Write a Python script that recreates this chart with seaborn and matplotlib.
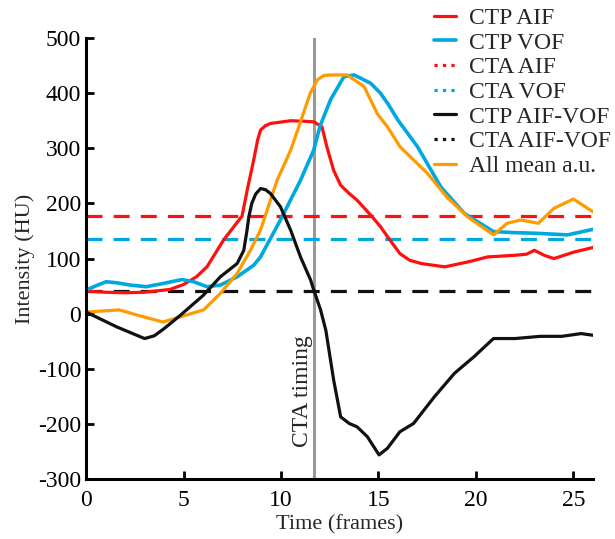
import matplotlib
matplotlib.use('Agg')
import matplotlib.pyplot as plt
from matplotlib.lines import Line2D
import seaborn as sns

# CTP AIF (red)
aif_t = [0, 1.0, 2.0, 3.0, 4.3, 5.0, 5.66, 6.2, 7.06, 8.0, 8.3, 8.6, 8.8, 8.95, 9.2,
         9.46, 10.5, 11.2, 11.68, 12.1, 12.35, 12.7, 13.06, 13.5, 13.9, 14.6, 15.1,
         15.46, 16.1, 16.6, 17.2, 18.4, 19.6, 20.6, 22.0, 22.6, 23.0, 23.5, 24.0,
         25.05, 26.0]
aif_v = [41, 39, 38, 39, 44, 53, 67, 85, 134, 177, 230, 279, 315, 333, 341,
         345, 350, 349, 348, 339, 303, 260, 233, 218, 206, 179, 158,
         140, 109, 97, 91, 85, 94, 103, 106, 108, 115, 106, 100,
         112, 120]

# CTP VOF (blue)
vof_t = [0, 0.6, 1.03, 1.6, 2.26, 3.08, 3.97, 4.92, 5.52, 6.2, 6.89, 7.75, 8.6, 8.95,
         9.97, 11.0, 11.68, 12.0, 12.54, 13.23, 13.75, 14.6, 15.1, 15.5, 16.0, 17.0,
         18.2, 19.4, 20.9, 22.0, 23.0, 24.7, 26.0]
vof_v = [43, 52, 58, 56, 52, 49, 55, 62, 58, 49, 52, 67, 88, 103,
         170, 242, 297, 340, 388, 430, 433, 418, 400, 380, 351, 303,
         230, 182, 149, 147, 146, 143, 153]

# All mean a.u. (orange)
mean_t = [0, 1.7, 2.78, 3.94, 4.8, 6.03, 6.89, 7.75, 8.43, 8.95, 9.8, 10.5, 11.0,
          11.5, 11.86, 12.2, 12.54, 13.4, 14.26, 14.95, 15.46, 16.1, 17.5, 18.5,
          19.56, 20.9, 21.6, 22.3, 23.2, 24.0, 25.0, 26.0]
mean_v = [3, 7, -4, -15, -6, 7, 37, 73, 115, 152, 242, 297, 348,
          400, 424, 432, 433, 433, 412, 362, 339, 303, 255, 212,
          176, 143, 164, 170, 164, 191, 208, 185]

# CTP AIF-VOF (black)
diff_t = [0, 1.58, 3.0, 3.5, 4.0, 4.83, 6.0, 6.89, 7.75, 8.09, 8.25, 8.35, 8.5, 8.7,
          8.95, 9.2, 9.46, 9.97, 10.5, 11.0, 11.52, 11.68, 12.03, 12.3, 12.7, 13.06,
          13.5, 13.9, 14.43, 15.03, 15.46, 16.1, 16.8, 17.86, 18.9, 19.9, 20.9, 22.0,
          23.3, 24.4, 25.4, 26.0]
diff_v = [3, -24, -45, -40, -27, -3, 33, 67, 91, 115, 150, 176, 200, 217,
          227, 225, 218, 194, 151, 103, 61, 43, 7, -30, -120, -187,
          -199, -205, -223, -256, -244, -214, -199, -151, -108, -78, -45, -45,
          -41, -41, -36, -39]

# CTA single values
cta_aif = 178
cta_vof = 136
cta_diff = 41
cta_timing = 11.68

legend_labels = ['CTP AIF', 'CTP VOF', 'CTA AIF', 'CTA VOF',
                 'CTP AIF-VOF', 'CTA AIF-VOF', 'All mean a.u.']

RED = '#ff1010'
BLUE = '#00a8e0'
ORANGE = '#ff9a00'
BLACK = '#111111'
GRAY = '#999999'

sns.set_style('ticks')
plt.rcParams['font.family'] = ['Liberation Serif', 'DejaVu Serif']
plt.rcParams['axes.unicode_minus'] = False

fig = plt.figure(figsize=(6.15, 5.39), dpi=100)
ax = fig.add_axes([0.14, 0.111, 0.824, 0.8185])

lw = 2.3
ax.axvline(cta_timing, color=GRAY, lw=2.2, zorder=1)
for val, col in [(cta_aif, RED), (cta_vof, BLUE), (cta_diff, BLACK)]:
    ax.axhline(val, color=col, lw=lw, dashes=(5, 3.5), zorder=2)

sns.lineplot(x=aif_t, y=aif_v, color=RED, lw=lw, ax=ax, sort=False)
sns.lineplot(x=vof_t, y=vof_v, color=BLUE, lw=lw + 0.3, ax=ax, sort=False)
sns.lineplot(x=mean_t, y=mean_v, color=ORANGE, lw=lw, ax=ax, sort=False)
sns.lineplot(x=diff_t, y=diff_v, color=BLACK, lw=lw, ax=ax, sort=False)

ax.text(cta_timing - 0.6, -140, 'CTA timing', rotation=90, ha='center', va='center',
        fontsize=17)

ax.set_xlim(0, 26)
ax.set_ylim(-300, 500)
ax.set_xticks([0, 5, 10, 15, 20, 25])
ax.set_yticks(range(-300, 501, 100))
ax.set_xlabel('Time (frames)', fontsize=16, labelpad=3)
ax.set_ylabel('Intensity (HU)', fontsize=16, labelpad=2)
ax.tick_params(direction='in', length=6, width=2, labelsize=17, colors='black')
ax.tick_params(axis='x', pad=8)
sns.despine(ax=ax)
for s in ['left', 'bottom']:
    ax.spines[s].set_linewidth(2.2)
    ax.spines[s].set_color('black')

handles = [
    Line2D([], [], color=RED, lw=lw),
    Line2D([], [], color=BLUE, lw=lw + 0.3),
    Line2D([], [], color=RED, lw=lw, ls=':'),
    Line2D([], [], color=BLUE, lw=lw, ls=':'),
    Line2D([], [], color=BLACK, lw=lw),
    Line2D([], [], color=BLACK, lw=lw, ls=':'),
    Line2D([], [], color=ORANGE, lw=lw),
]
fig.legend(handles, legend_labels, loc='upper left', bbox_to_anchor=(0.690, 1.004),
           frameon=False, fontsize=17, handlelength=0.95, handletextpad=0.55,
           labelspacing=0.135, borderaxespad=0)

fig.savefig('out.png', dpi=100)
